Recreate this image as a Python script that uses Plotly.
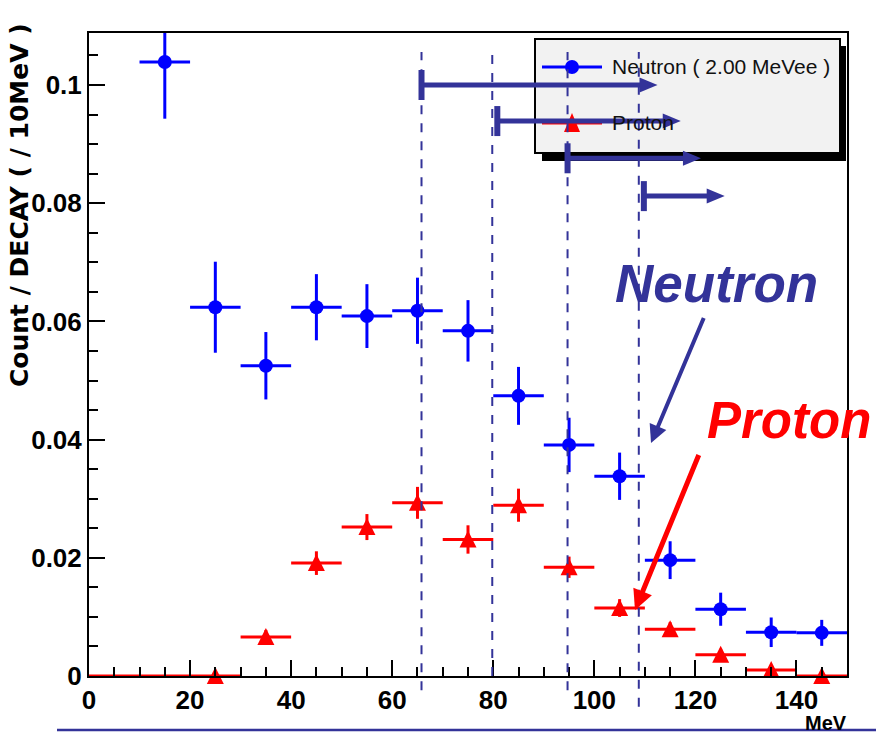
import plotly.graph_objects as go

# ---------------- data ----------------
neutron_x = [15, 25, 35, 45, 55, 65, 75, 85, 95, 105, 115, 125, 135, 145]
neutron_y = [0.1039, 0.0624, 0.0525, 0.0624, 0.0609, 0.0618, 0.0584, 0.0474,
             0.0391, 0.0338, 0.0196, 0.0113, 0.0074, 0.0073]
neutron_err = [0.0096, 0.0077, 0.0057, 0.0056, 0.0054, 0.0056, 0.0052, 0.0049,
               0.0046, 0.0040, 0.0032, 0.0028, 0.0025, 0.0022]

# empty proton bins (drawn as bar only, no marker)
proton_empty_x = [5, 15]
proton_empty_y = [0.0, 0.0]

proton_x = [25, 35, 45, 55, 65, 75, 85, 95, 105, 115, 125, 135, 145]
proton_y = [0.0, 0.0066, 0.0191, 0.0252, 0.0293, 0.0231, 0.0289,
            0.0184, 0.0115, 0.0079, 0.0036, 0.0010, 0.0]
proton_err = [0.0, 0.0012, 0.0020, 0.0022, 0.0027, 0.0024, 0.0028,
              0.0018, 0.0015, 0.0012, 0.0010, 0.0006, 0.0]

bin_half_width = 5
cut_lines = [65.8, 79.8, 94.7, 108.8]             # dashed vertical lines (MeV)
cut_line_bottoms = [-0.022, 0.0, -0.022, -0.048]  # paper coords
arrows = [  # (start x, end x, y)
    (65.8, 112.5, 0.1000),
    (80.8, 117.1, 0.0939),
    (94.7, 121.1, 0.0876),
    (109.8, 125.8, 0.0812),
]

x_range = [0, 150]
y_range = [0, 0.1088]
x_ticks = [0, 20, 40, 60, 80, 100, 120, 140]
y_ticks = [0, 0.02, 0.04, 0.06, 0.08, 0.1]
y_tick_text = ["0", "0.02", "0.04", "0.06", "0.08", "0.1"]

NAVY = "#333399"
BLUE = "#0000ff"
RED = "#ff0000"
SANS = "Liberation Sans, Arial, sans-serif"

W, H = 876, 733
L, R, T, B = 89, 29, 33, 57
PW, PH = W - L - R, H - T - B


def px(xp):
    return (xp - L) / PW


def py(yp):
    return (H - B - yp) / PH


fig = go.Figure()

fig.add_trace(go.Scatter(
    x=proton_empty_x, y=proton_empty_y, mode="markers", name="Proton (empty)",
    marker=dict(size=1, color="rgba(0,0,0,0)"),
    error_x=dict(type="constant", value=bin_half_width, color=RED, thickness=3, width=0),
    cliponaxis=False, showlegend=False,
))
fig.add_trace(go.Scatter(
    x=proton_x, y=proton_y, mode="markers", name="Proton",
    # upright triangle centred on the point (ROOT style marker 22)
    marker=dict(symbol="arrow-down", angle=180, standoff=9, size=17,
                color=RED, line=dict(width=0)),
    error_x=dict(type="constant", value=bin_half_width, color=RED, thickness=3, width=0),
    error_y=dict(type="data", array=proton_err, color=RED, thickness=3, width=0),
    cliponaxis=False, showlegend=False,
))
fig.add_trace(go.Scatter(
    x=neutron_x, y=neutron_y, mode="markers", name="Neutron ( 2.00 MeVee )",
    marker=dict(symbol="circle", size=14, color=BLUE, line=dict(width=0)),
    error_x=dict(type="constant", value=bin_half_width, color=BLUE, thickness=3, width=0),
    error_y=dict(type="data", array=neutron_err, color=BLUE, thickness=3, width=0),
    showlegend=False,
))

shapes = []
# legend box with shadow
shapes.append(dict(type="rect", xref="paper", yref="paper",
                   x0=px(542), x1=px(846), y0=py(161), y1=py(46),
                   fillcolor="black", line=dict(width=0), layer="above"))
shapes.append(dict(type="rect", xref="paper", yref="paper",
                   x0=px(535), x1=px(840), y0=py(153), y1=py(39),
                   fillcolor="#f2f2f2", line=dict(color="black", width=2), layer="above"))
# legend symbols
shapes.append(dict(type="line", xref="paper", yref="paper",
                   x0=px(542), x1=px(602), y0=py(67), y1=py(67),
                   line=dict(color=BLUE, width=3), layer="above"))
shapes.append(dict(type="circle", xref="paper", yref="paper",
                   x0=px(565), x1=px(579), y0=py(74), y1=py(60),
                   fillcolor=BLUE, line=dict(width=0), layer="above"))
shapes.append(dict(type="line", xref="paper", yref="paper",
                   x0=px(542), x1=px(602), y0=py(123), y1=py(123),
                   line=dict(color=RED, width=3), layer="above"))
shapes.append(dict(type="path", xref="paper", yref="paper",
                   path=f"M{px(564)},{py(132)} L{px(580)},{py(132)} L{px(572)},{py(113)} Z",
                   fillcolor=RED, line=dict(width=0), layer="above"))

# dashed cut lines
for cx, yb in zip(cut_lines, cut_line_bottoms):
    shapes.append(dict(type="line", xref="x", yref="paper", x0=cx, x1=cx,
                       y0=yb, y1=py(52), line=dict(color=NAVY, width=2, dash="dash"),
                       layer="above"))

# threshold arrows  |----->
xs = PW / (x_range[1] - x_range[0])
ys = PH / (y_range[1] - y_range[0])
head_len = 18 / xs
head_half = 7.5 / ys
bar_half = 15 / ys
for x0, x1, yv in arrows:
    shapes.append(dict(type="line", xref="x", yref="y", x0=x0, x1=x1 - head_len * 0.5,
                       y0=yv, y1=yv, line=dict(color=NAVY, width=5), layer="above"))
    shapes.append(dict(type="line", xref="x", yref="y", x0=x0, x1=x0,
                       y0=yv - bar_half, y1=yv + bar_half,
                       line=dict(color=NAVY, width=6), layer="above"))
    shapes.append(dict(type="path", xref="x", yref="y",
                       path=f"M{x1 - head_len},{yv - head_half} L{x1},{yv} "
                            f"L{x1 - head_len},{yv + head_half} Z",
                       fillcolor=NAVY, line=dict(width=0), layer="above"))

# bottom underline
shapes.append(dict(type="line", xref="paper", yref="paper", x0=px(57), x1=px(876),
                   y0=py(730), y1=py(730), line=dict(color=NAVY, width=2.5), layer="above"))

annotations = [
    dict(text="Neutron ( 2.00 MeVee )", xref="paper", yref="paper", x=px(610), y=py(67),
         xanchor="left", yanchor="middle", showarrow=False,
         font=dict(family=SANS, size=21, color="#111111")),
    dict(text="Proton", xref="paper", yref="paper", x=px(610), y=py(123),
         xanchor="left", yanchor="middle", showarrow=False,
         font=dict(family=SANS, size=21, color="#111111")),
    dict(text="<b><i>Neutron</i></b>", xref="paper", yref="paper", x=px(716), y=py(283),
         xanchor="center", yanchor="middle", showarrow=False,
         font=dict(family=SANS, size=53, color=NAVY)),
    dict(text="<b><i>Proton</i></b>", xref="paper", yref="paper", x=px(789), y=py(420),
         xanchor="center", yanchor="middle", showarrow=False,
         font=dict(family=SANS, size=51, color=RED)),
    dict(text=" ", xref="paper", yref="paper", x=px(651), y=py(443),
         ax=54, ay=-128, showarrow=True, arrowhead=2, arrowsize=0.9,
         arrowwidth=4, arrowcolor=NAVY, standoff=0, font=dict(size=2)),
    dict(text=" ", xref="paper", yref="paper", x=px(635), y=py(610),
         ax=65, ay=-158, showarrow=True, arrowhead=2, arrowsize=0.8,
         arrowwidth=5, arrowcolor=RED, standoff=0, font=dict(size=2)),
    dict(text="<b>Count / DECAY ( / 10MeV )</b>", xref="paper", yref="paper",
         x=px(19), y=py(205), textangle=-90, showarrow=False,
         xanchor="center", yanchor="middle",
         font=dict(family="DejaVu Sans, sans-serif", size=25, color="black")),
    dict(text="<b>MeV</b>", xref="paper", yref="paper", x=px(826), y=py(723),
         showarrow=False, xanchor="center", yanchor="middle",
         font=dict(family=SANS, size=20, color="black")),
    dict(text="<b>Energy Spectrum of <sup>12</sup><sub>Λ</sub>C</b>", xref="paper", yref="paper",
         x=px(441), y=py(-17), showarrow=False, xanchor="center", yanchor="middle",
         font=dict(family=SANS, size=30, color="black")),
]

tickfont = dict(family=SANS, size=26, color="black", weight="bold")

fig.update_layout(
    width=W, height=H,
    margin=dict(l=L, r=R, t=T, b=B, pad=0),
    paper_bgcolor="white", plot_bgcolor="white",
    showlegend=False,
    shapes=shapes, annotations=annotations,
    xaxis=dict(range=x_range, tickvals=x_ticks, ticks="inside", ticklen=16,
               tickwidth=1.5, tickcolor="black", showline=True, linecolor="black",
               linewidth=2, mirror=True, showgrid=False, zeroline=False,
               tickfont=tickfont,
               minor=dict(dtick=5, tick0=0, ticks="inside", ticklen=9, tickwidth=1.5,
                          tickcolor="black", showgrid=False)),
    yaxis=dict(range=y_range, tickvals=y_ticks, ticktext=y_tick_text, ticks="inside",
               ticklen=16, tickwidth=1.5, tickcolor="black", showline=True,
               linecolor="black", linewidth=2, mirror=True, showgrid=False,
               zeroline=False, tickfont=tickfont,
               minor=dict(dtick=0.005, tick0=0, ticks="inside", ticklen=9, tickwidth=1.5,
                          tickcolor="black", showgrid=False)),
)

fig.write_html("out.html")
